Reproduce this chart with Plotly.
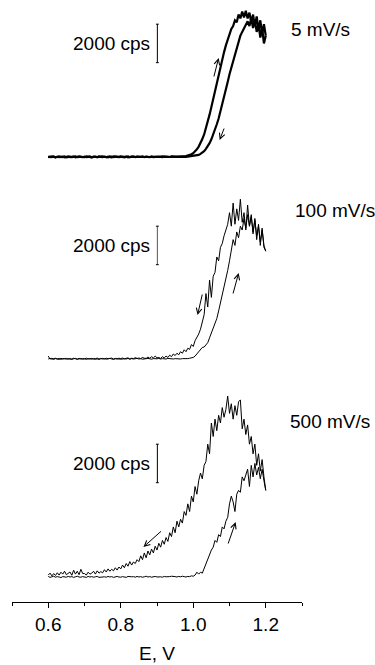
import numpy as np
import plotly.graph_objects as go

# Potential grid (V), sampled every 5 mV from 0.6 to 1.2
E = [round(0.6 + 0.005 * i, 3) for i in range(121)]

# ---- 5 mV/s (counts per second) ----
TOP_FWD = [20, -10, 30, 0, -20, 10, 30, -10, 20, -20,
           10, 30, -10, 0, 20, -20, 10, 30, 0, -10,
           20, -10, 10, 30, -20, 0, 20, -10, 30, 10,
           -10, 20, 0, -20, 30, 10, -10, 20, 0, 10,
           30, -10, 10, 20, -20, 10, 0, 30, -10, 20,
           0, 10, 30, -10, 20, 0, -10, 20, 10, 30,
           0, 20, 10, -10, 30, 10, 20, 0, 30, 20,
           10, 30, 20, 40, 30, 40, 50, 70, 100, 140,
           200, 290, 400, 540, 720, 930, 1170, 1470, 1800, 2200,
           2600, 3020, 3450, 3880, 4300, 4700, 5100, 5450, 5800, 6100,
           6350, 6650, 6800, 7100, 7000, 7400, 7200, 7550, 7250, 7600,
           7200, 7500, 7000, 7400, 6800, 7300, 6600, 7100, 6400, 6900,
           6300]
TOP_REV = [-10, 20, 0, 30, -20, 10, -10, 20, 0, 30,
           -20, 10, 20, -10, 0, 30, -10, 10, 20, 0,
           -10, 30, 0, 10, -20, 20, 0, -10, 10, 20,
           30, 0, -10, 20, 10, -20, 30, 0, 10, -10,
           0, 20, -20, 10, 30, -10, 20, 0, 10, -10,
           20, 0, 10, -10, 30, 10, 0, 20, -10, 10,
           20, 0, 10, 30, 0, 20, 10, 0, 20, 10,
           0, 20, 10, 0, 20, 10, 10, 20, 20, 30,
           40, 60, 80, 110, 160, 220, 300, 420, 560, 720,
           920, 1150, 1400, 1700, 2000, 2350, 2700, 3100, 3500, 3900,
           4300, 4650, 5000, 5350, 5700, 6000, 6300, 6500, 6700, 6900,
           7050, 6800, 7200, 6700, 7100, 6500, 6900, 6200, 6700, 5900,
           6300]

# ---- 100 mV/s ----
MID_FWD = [150, 0, 40, -20, 20, 0, -20, 30, 0, 20,
           -10, 20, 0, -20, 10, 30, -10, 0, 20, -10,
           10, -20, 20, 0, 30, -10, 10, 0, -20, 20,
           0, 20, -10, 10, 30, 0, -20, 10, 20, 0,
           -10, 20, 10, 0, 30, -10, 20, 0, 10, 30,
           0, 20, -10, 10, 0, 30, 10, -10, 20, 0,
           10, 30, 0, 20, 10, 0, 30, 10, 20, 0,
           20, 10, 30, 0, 20, 10, 0, 20, 40, 60,
           80, 150, 250, 380, 450, 600, 620, 750, 850, 1100,
           1350, 1600, 1850, 2100, 2500, 2900, 3300, 3700, 4200, 4600,
           5100, 5600, 6200, 5900, 6600, 6300, 6900, 6700, 7300, 6800,
           7500, 6900, 7400, 6600, 7200, 6400, 6900, 6100, 6700, 5900,
           5600]
MID_REV = [0, 30, -10, 20, 40, 0, 30, -20, 20, 10,
           30, -10, 20, 0, 40, 10, -10, 30, 0, 20,
           10, 40, 0, 20, -10, 30, 10, 50, 0, 20,
           30, 0, 40, 10, 20, 50, 0, 30, 10, 40,
           20, 50, 10, 30, 60, 0, 40, 20, 70, 30,
           50, 20, 80, 40, 30, 100, 40, 120, 60, 150,
           60, 80, 30, 120, 60, 150, 80, 200, 120, 260,
           180, 300, 220, 380, 300, 480, 380, 560, 500, 750,
           650, 950, 1100, 1300, 1550, 2000, 2300, 3400, 2700, 4100,
           3200, 4300, 4500, 5300, 5100, 5800, 6000, 6400, 6700, 7000,
           7600, 6900, 8100, 7000, 7800, 7200, 8300, 7100, 7600, 6700,
           8000, 6900, 7500, 6500, 7300, 6200, 7000, 5900, 6800, 5800,
           5600]

# ---- 500 mV/s ----
BOT_FWD = [30, -20, 10, 40, -10, 20, 0, -30, 20, 10,
           -10, 30, 0, 20, -20, 10, 40, 0, -10, 20,
           10, -20, 30, 0, 20, -10, 10, 30, -20, 0,
           20, 10, -10, 30, 0, 20, -20, 10, 30, 0,
           -10, 20, 10, -20, 30, 0, 10, 20, -10, 30,
           0, 20, -10, 10, 40, 0, 20, -10, 10, 30,
           0, 20, 10, -10, 30, 10, 0, 20, 40, 10,
           20, 0, 30, 10, 40, 20, 0, 30, 20, 60,
           40, 100, 250, 150, 250, 200, 450, 600, 900, 1100,
           1400, 1550, 1900, 1800, 2200, 2100, 2600, 2500, 2900, 3100,
           3800, 4200, 3900, 3400, 4300, 4500, 4400, 5200, 5000, 5300,
           5600, 4700, 5800, 5200, 5900, 5300, 5700, 5100, 5600, 5000,
           4500]
BOT_REV = [100, 200, 60, 180, 80, 220, 100, 250, 150, 300,
           120, 200, 260, 90, 350, 150, 300, 120, 400, 180,
           180, 100, 250, 150, 200, 300, 150, 320, 200, 280,
           220, 380, 260, 420, 300, 400, 320, 480, 360, 520,
           420, 620, 480, 700, 560, 800, 620, 780, 700, 900,
           800, 1100, 900, 1250, 1000, 1350, 1150, 1450, 1250, 1600,
           1400, 1750, 1550, 1900, 1700, 2050, 1850, 2300, 2100, 2600,
           2300, 2900, 2600, 3000, 2800, 3400, 3200, 3800, 3400, 4200,
           3900, 4700, 4300, 5000, 5400, 5100, 5800, 6000, 6900, 6400,
           8000, 7300, 8200, 7600, 8400, 8000, 8800, 8300, 8700, 9400,
           8500, 9000, 8200, 8900, 8400, 9100, 9200, 7700, 8200, 7400,
           7900, 6900, 7300, 6400, 6900, 5800, 6400, 5500, 6100, 5200,
           4500]

RATES = ["5 mV/s", "100 mV/s", "500 mV/s"]
SCALE_CPS = 2000
X_TICKS = [0.6, 0.8, 1.0, 1.2]

# ---------------- layout geometry ----------------
W, H = 375, 665
ML, MR, MT, MB = 12, 73, 0, 63
PH = H - MT - MB
PX_PER_CPS = 38.5 / SCALE_CPS
# (panel top px, panel bottom px, baseline px) for top, middle, bottom
PANELS = [(0, 185, 157), (190, 385, 359), (390, 602, 577)]
AX = ["y3", "y2", "y"]
AXL = ["yaxis3", "yaxis2", "yaxis"]

fig = go.Figure()
FONT = "Liberation Sans, Arial, sans-serif"
FS = 19
curves = [(TOP_FWD, TOP_REV, 2.2), (MID_FWD, MID_REV, 1.0), (BOT_FWD, BOT_REV, 1.0)]
for i, (fwd, rev, lw) in enumerate(curves):
    for ser in (fwd, rev):
        fig.add_trace(go.Scatter(x=E, y=ser, mode="lines", yaxis=AX[i],
                                 line=dict(color="black", width=lw),
                                 showlegend=False, hoverinfo="skip"))

layout = {}
label_pos = [(1.2636, 29), (1.2746, 211), (1.2608, 421)]
arrows = [
    [((1.070, 5143), (1.056, 4104)), ((1.0728, 883), (1.0866, 1558))],
    [((1.0119, 2286), (1.0258, 3429)), ((1.1253, 4468), (1.1087, 3325))],
    [((0.8626, 1558), (0.9152, 2442)), ((1.117, 2857), (1.0949, 1662))],
]
annotations = []
shapes = []
bar_x = 0.901
bar_lo = 4900
for i, (top_px, bot_px, base_px) in enumerate(PANELS):
    d0 = (PH - bot_px) / PH
    d1 = (PH - top_px) / PH
    r0 = -(bot_px - base_px) / PX_PER_CPS
    r1 = (base_px - top_px) / PX_PER_CPS
    layout[AXL[i]] = dict(domain=[max(0, d0), min(1, d1)], range=[r0, r1],
                          visible=False, anchor="x", fixedrange=True)
    yref = AX[i]
    # scale bar
    bar_hi = bar_lo + SCALE_CPS
    bar_col = "#555" if i == 1 else "black"
    shapes.append(dict(type="line", xref="x", yref=yref, x0=bar_x, x1=bar_x,
                       y0=bar_lo, y1=bar_hi, line=dict(color=bar_col, width=1)))
    for yy in (bar_lo, bar_hi):
        shapes.append(dict(type="line", xref="x", yref=yref, x0=bar_x - 0.004,
                           x1=bar_x + 0.004, y0=yy, y1=yy,
                           line=dict(color="black", width=1)))
    annotations.append(dict(x=0.885, y=(bar_lo + bar_hi) / 2, xref="x", yref=yref,
                            text=f"{SCALE_CPS} cps", showarrow=False,
                            xanchor="right", yanchor="middle",
                            font=dict(family=FONT, size=FS, color="black")))
    # rate label
    lx, lpx = label_pos[i]
    annotations.append(dict(x=lx, y=(base_px - lpx) / PX_PER_CPS, xref="x", yref=yref,
                            text=RATES[i], showarrow=False, xanchor="left",
                            yanchor="middle",
                            font=dict(family=FONT, size=FS, color="black")))
    for (hx, hy), (tx, ty) in arrows[i]:
        annotations.append(dict(x=hx, y=hy, ax=tx, ay=ty, xref="x", yref=yref,
                                axref="x", ayref=yref, text="", showarrow=True,
                                arrowhead=5, arrowsize=1.1, arrowwidth=1,
                                arrowcolor="black", standoff=0, startstandoff=0))

fig.update_layout(
    width=W, height=H,
    margin=dict(l=ML, r=MR, t=MT, b=MB),
    paper_bgcolor="white", plot_bgcolor="white",
    font=dict(family=FONT, size=FS, color="black"),
    xaxis=dict(range=[0.5, 1.3], anchor="y", showline=True, linecolor="black",
               linewidth=1, ticks="outside", ticklen=5, tickwidth=1,
               tickcolor="black", tickvals=X_TICKS, tickformat=".1f",
               showgrid=False, zeroline=False, fixedrange=True,
               minor=dict(tick0=0.5, dtick=0.1, ticks="outside", ticklen=3,
                          tickcolor="black", showgrid=False),
               tickfont=dict(family=FONT, size=FS, color="black"),
               title=dict(text="E, V", standoff=12,
                          font=dict(family=FONT, size=FS, color="black"))),
    annotations=annotations, shapes=shapes,
    **layout,
)

fig.write_html("out.html", config={"displayModeBar": False})
